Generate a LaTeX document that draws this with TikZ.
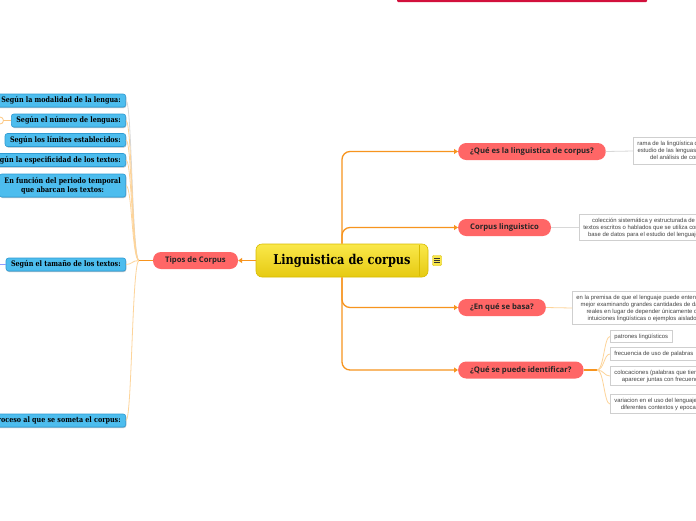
\documentclass[tikz,border=0pt]{standalone}
\usepackage{fontspec}
\setmainfont{Liberation Sans}
\newfontfamily\slab{DejaVu Serif}[FakeStretch=0.84]
\newfontfamily\osans{Open Sans}
\usetikzlibrary{arrows.meta,shadows}
\definecolor{bluef}{HTML}{4DBDEE}
\definecolor{blueb}{HTML}{2F9BD3}
\definecolor{bluesh}{HTML}{7A95A8}
\definecolor{redf}{HTML}{FF6666}
\definecolor{orangec}{HTML}{F7941E}
\definecolor{lightor}{HTML}{FDD49A}
\definecolor{lgray}{HTML}{D8D8D8}
\definecolor{boxb}{HTML}{CFCFCF}
\definecolor{txtg}{HTML}{444444}
\definecolor{yelt}{HTML}{FAE84A}
\definecolor{yelb}{HTML}{E6CA12}
\definecolor{yeld}{HTML}{D8BC00}
\definecolor{crim}{HTML}{D2103C}
\definecolor{periw}{HTML}{8C9EFF}
\tikzset{
  bluebox/.style={draw=blueb, line width=0.6pt, fill=bluef, rounded corners=2.5pt,
    minimum height=13pt, inner xsep=5pt, inner ysep=1.5pt, anchor=east, align=center,
    font=\slab\bfseries\fontsize{7.6}{8.6}\selectfont,
    drop shadow={shadow xshift=0.6pt, shadow yshift=-1pt, fill=bluesh, opacity=0.6}},
  redbox/.style={fill=redf, rounded corners=8pt, minimum height=17pt, inner xsep=12pt,
    inner ysep=1pt, font=\osans\bfseries\fontsize{7.7}{8.5}\selectfont, text=black!85},
  graybox/.style={draw=boxb, line width=0.7pt, fill=white, inner xsep=4pt, inner ysep=3.5pt,
    align=center, anchor=west, font=\fontsize{5.9}{7}\selectfont, text=txtg,
    drop shadow={shadow xshift=0.5pt, shadow yshift=-0.5pt, fill=black!10, opacity=1}},
  thickor/.style={draw=orangec, line width=1.3pt},
  thinor/.style={draw=lightor, line width=0.8pt},
  thingr/.style={draw=lgray, line width=0.8pt},
  tipr/.style={-{Triangle[width=5pt,length=4pt]}}
}
\begin{document}
\begin{tikzpicture}[x=1pt,y=-1pt]
\useasboundingbox (0,0) rectangle (696,520);
\clip (0,0) rectangle (696,520);
\fill[white] (0,0) rectangle (696,520);
% top line
\fill[crim, rounded corners=1pt] (397,-2) rectangle (647,2);

% central node
\node[draw=yeld, line width=0.6pt, top color=yelt, bottom color=yelb, rounded corners=6pt,
  minimum width=172pt, minimum height=33pt, font=\slab\bfseries\fontsize{13.5}{15}\selectfont]
  (c) at (342,260.5) {Linguistica de corpus};
\draw[yeld, line width=0.7pt] (419,245) -- (419,276);
% icon
\node[fill=yelt, draw=yeld, line width=0.4pt, rounded corners=1pt, minimum width=9pt, minimum height=10pt, inner sep=0pt] (ic) at (437,260.5) {};
\foreach \yy in {-2.2,0,2.2}{\draw[black!80, line width=0.7pt] ([xshift=-2.6pt,yshift=\yy pt]ic.center) -- ([xshift=2.6pt,yshift=\yy pt]ic.center);}

% Tipos de Corpus
\node[redbox, minimum width=85pt] (t) at (195.5,260.5) {Tipos de Corpus};
\coordinate (hub) at (139,260.5);
\draw[thickor, tipr] (c.west) -- (t.east);

% left blue nodes
\node[bluebox] (b1) at (126,100.5) {Según la modalidad de la lengua:};
\node[bluebox] (b2) at (126,120.5) {Según el número de lenguas:};
\node[bluebox] (b3) at (126,140) {Según los límites establecidos:};
\node[bluebox] (b4) at (126,160) {Según la especificidad de los textos:};
\node[bluebox, minimum height=23pt] (b5) at (126,185.5) {En función del periodo temporal\\que abarcan los textos:};
\node[bluebox] (b6) at (126,264.5) {Según el tamaño de los textos:};
\node[bluebox] (b7) at (126,420.5) {Según el proceso al que se someta el corpus:};

\draw[thingr] (hub) .. controls (132,260.5) and (132,100.5) .. (b1.east);
\foreach \n/\yy in {b2/120.5,b3/140,b4/160,b5/185.5,b6/264.5,b7/420.5}{
  \draw[thinor] (hub) .. controls (132,260.5) and (132,\yy) .. (\n.east);
}
\draw[thickor] (t.west) -- (hub);

% extra marks at left edge
\coordinate (lc) at (0,120.5);
\draw[lightor!80!orangec, line width=0.8pt] (lc) -- (b2.west);
\draw[lightor!80!orangec, fill=white, line width=0.8pt] (lc) circle (3.5pt);
\coordinate (lb) at (0,264.5);
\draw[periw, line width=1pt] (lb) -- (b6.west);

% right red nodes
\node[redbox, anchor=west] (q1) at (458,151.5) {¿Qué es la linguistica de corpus?};
\node[redbox, anchor=west] (q2) at (458,227.5) {Corpus linguistico};
\node[redbox, anchor=west] (q3) at (458,307.5) {¿En qué se basa?};
\node[redbox, anchor=west] (q4) at (458,370) {¿Qué se puede identificar?};

\draw[thickor, tipr, rounded corners=8pt] (c.north) |- (q1.west);
\draw[thickor, tipr, rounded corners=8pt] (c.north) |- (q2.west);
\draw[thickor, tipr, rounded corners=8pt] (c.south) |- (q3.west);
\draw[thickor, tipr, rounded corners=8pt] (c.south) |- (q4.west);

% gray text boxes
\node[graybox] (d1) at (633,151) {rama de la lingüística que se centra en el\\estudio de las lenguas naturales a través\\del análisis de corpus textuales};
\node[graybox] (d2) at (579,227.5) {colección sistemática y estructurada de\\textos escritos o hablados que se utiliza como\\base de datos para el estudio del lenguaje};
\node[graybox] (d3) at (572,308) {en la premisa de que el lenguaje puede entenderse\\mejor examinando grandes cantidades de datos\\reales en lugar de depender únicamente de\\intuiciones lingüísticas o ejemplos aislados};
\draw[thingr] (q1.east) -- (d1.west);
\draw[thingr] (q2.east) -- (d2.west);
\draw[thinor] (q3.east) -- (d3.west);

\node[graybox] (s1) at (610,336.5) {patrones lingüísticos};
\node[graybox] (s2) at (610,354) {frecuencia de uso de palabras};
\node[graybox] (s3) at (610,376) {colocaciones (palabras que tienden a\\aparecer juntas con frecuencia)};
\node[graybox] (s4) at (610,404) {variacion en el uso del lenguaje en\\diferentes contextos y epocas};
\coordinate (hub2) at (597,370);
\draw[thickor] (q4.east) -- (hub2);
\foreach \n/\yy in {s1/336.5,s2/354,s3/376,s4/404}{
  \draw[thinor] (hub2) .. controls (604,370) and (604,\yy) .. (\n.west);
}
\end{tikzpicture}
\end{document}
